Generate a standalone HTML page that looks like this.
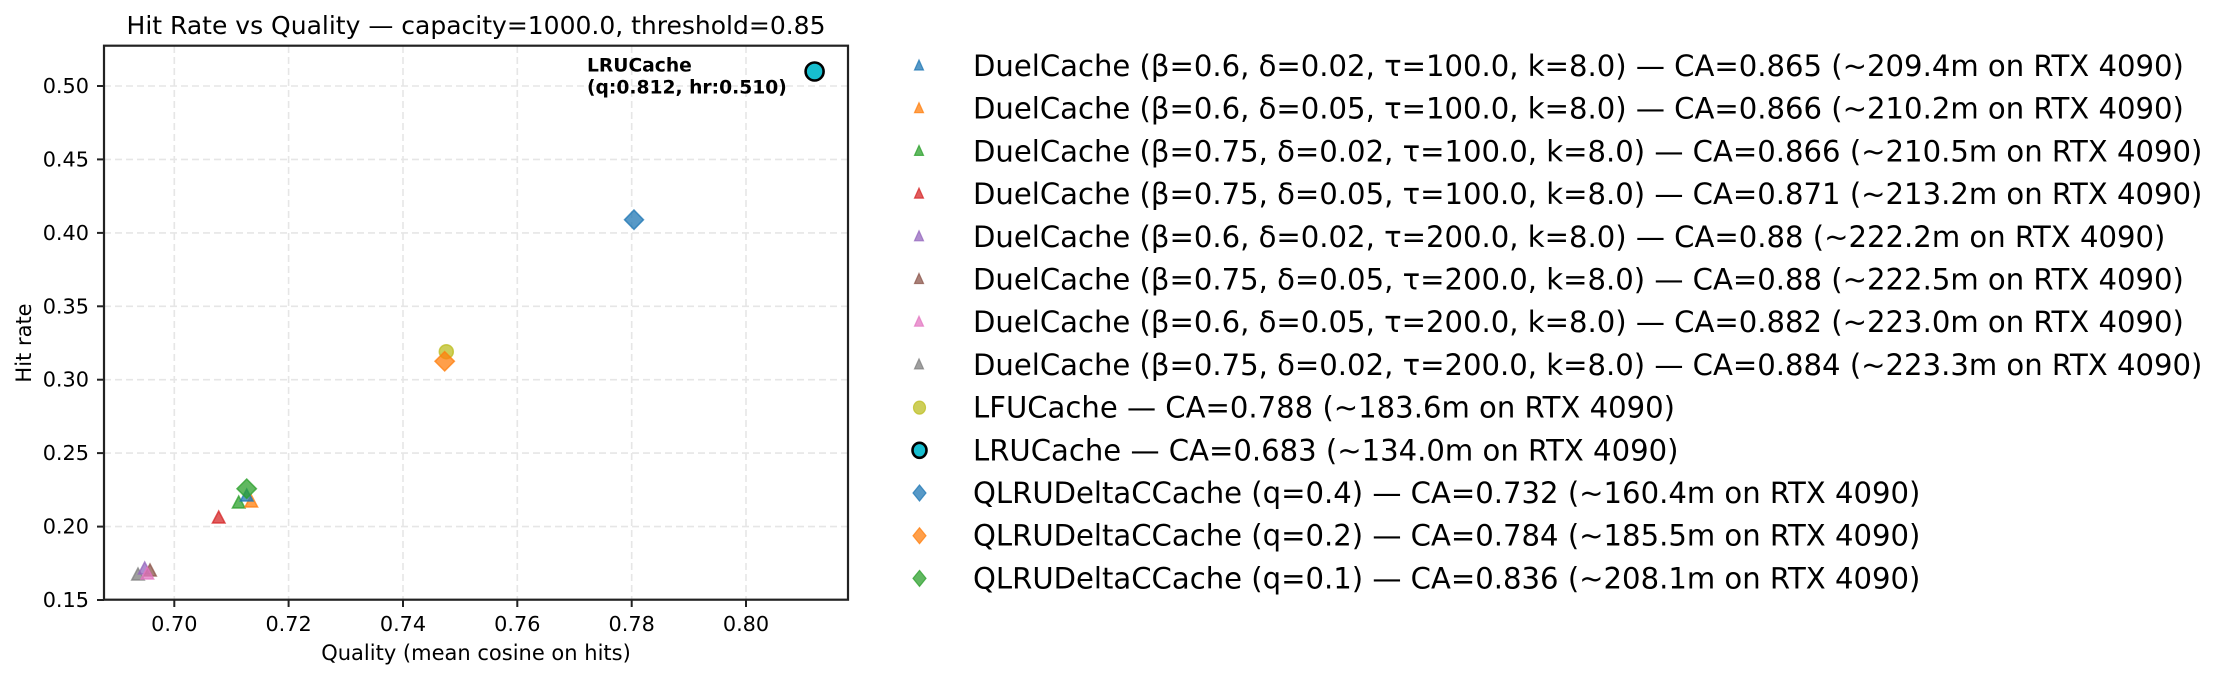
<!DOCTYPE html>
<html><head><meta charset="utf-8"><style>
html,body{margin:0;padding:0;background:#fff;}
svg{display:block;font-family:"DejaVu Sans","Liberation Sans",sans-serif;}
</style></head><body>
<svg width="2228" height="678" viewBox="0 0 2228 678" xmlns="http://www.w3.org/2000/svg">
<rect width="2228" height="678" fill="#fff"/>
<text x="476" y="34" font-size="25" text-anchor="middle" fill="#000">Hit Rate vs Quality — capacity=1000.0, threshold=0.85</text>
<g stroke="#e6e6e6" stroke-width="1.6" stroke-dasharray="7,4">
<line x1="174.3" y1="46" x2="174.3" y2="600"/><line x1="288.6" y1="46" x2="288.6" y2="600"/><line x1="403" y1="46" x2="403" y2="600"/><line x1="517.3" y1="46" x2="517.3" y2="600"/><line x1="631.7" y1="46" x2="631.7" y2="600"/><line x1="746" y1="46" x2="746" y2="600"/>
<line x1="104" y1="526.6" x2="848" y2="526.6"/><line x1="104" y1="453.1" x2="848" y2="453.1"/><line x1="104" y1="379.7" x2="848" y2="379.7"/><line x1="104" y1="306.3" x2="848" y2="306.3"/><line x1="104" y1="232.9" x2="848" y2="232.9"/><line x1="104" y1="159.4" x2="848" y2="159.4"/><line x1="104" y1="86" x2="848" y2="86"/>
</g>
<g fill-opacity="0.75" stroke-opacity="0.75" stroke-width="1.5">
<polygon points="634,210 643.5,219.7 634,229.4 624.5,219.7" fill="#1f77b4" stroke="#1f77b4"/>
<circle cx="446.3" cy="351.7" r="7" fill="#bcbd22" stroke="#bcbd22"/>
<polygon points="444.7,351.6 454.4,361.3 444.7,371 435,361.3" fill="#ff7f0e" stroke="#ff7f0e"/>
<polygon points="218.7,511 225,523 212.4,523" fill="#d62728" stroke="#d62728"/>
<polygon points="238.7,496 245,508 232.4,508" fill="#2ca02c" stroke="#2ca02c"/>
<polygon points="251.3,495 257.6,507 245,507" fill="#ff7f0e" stroke="#ff7f0e"/>
<polygon points="246.7,489 253,501 240.4,501" fill="#1f77b4" stroke="#1f77b4"/>
<polygon points="246.7,479 256.4,488.7 246.7,498.4 237,488.7" fill="#2ca02c" stroke="#2ca02c"/>
<polygon points="138,568 144.3,580 131.7,580" fill="#7f7f7f" stroke="#7f7f7f"/>
<polygon points="144.7,562 151,574 138.4,574" fill="#9467bd" stroke="#9467bd"/>
<polygon points="150,564 156.3,576 143.7,576" fill="#8c564b" stroke="#8c564b"/>
<polygon points="147.3,567 153.6,579 141,579" fill="#e377c2" stroke="#e377c2"/>
</g>
<circle cx="814.6" cy="71.5" r="9" fill="#17becf" stroke="#000" stroke-width="2.6"/>
<text x="587" y="71.5" font-size="18.7" font-weight="bold" fill="#000">LRUCache</text>
<text x="587" y="93.3" font-size="18.7" font-weight="bold" fill="#000">(q:0.812, hr:0.510)</text>
<rect x="104" y="45.7" width="744" height="554" fill="none" stroke="#222" stroke-width="2.2"/>
<g stroke="#222" stroke-width="2">
<line x1="174.3" y1="600" x2="174.3" y2="607"/><line x1="288.6" y1="600" x2="288.6" y2="607"/><line x1="403" y1="600" x2="403" y2="607"/><line x1="517.3" y1="600" x2="517.3" y2="607"/><line x1="631.7" y1="600" x2="631.7" y2="607"/><line x1="746" y1="600" x2="746" y2="607"/>
<line x1="97" y1="600" x2="104" y2="600"/><line x1="97" y1="526.6" x2="104" y2="526.6"/><line x1="97" y1="453.1" x2="104" y2="453.1"/><line x1="97" y1="379.7" x2="104" y2="379.7"/><line x1="97" y1="306.3" x2="104" y2="306.3"/><line x1="97" y1="232.9" x2="104" y2="232.9"/><line x1="97" y1="159.4" x2="104" y2="159.4"/><line x1="97" y1="86" x2="104" y2="86"/>
</g>
<g font-size="20.8" fill="#000" text-anchor="middle">
<text x="174.3" y="631">0.70</text><text x="288.6" y="631">0.72</text><text x="403" y="631">0.74</text><text x="517.3" y="631">0.76</text><text x="631.7" y="631">0.78</text><text x="746" y="631">0.80</text>
</g>
<g font-size="20.8" fill="#000" text-anchor="end">
<text x="89" y="607">0.15</text><text x="89" y="533.6">0.20</text><text x="89" y="460.1">0.25</text><text x="89" y="386.7">0.30</text><text x="89" y="313.3">0.35</text><text x="89" y="239.9">0.40</text><text x="89" y="166.4">0.45</text><text x="89" y="93">0.50</text>
</g>
<text x="476" y="660" font-size="21" text-anchor="middle" fill="#000">Quality (mean cosine on hits)</text>
<text transform="translate(31,343) rotate(-90)" font-size="21" text-anchor="middle" fill="#000">Hit rate</text>
<g fill-opacity="0.75" stroke-opacity="0.75" stroke-width="1.2">
<polygon points="919,60 923.5,70 914.5,70" fill="#1f77b4" stroke="#1f77b4"/>
<polygon points="919,102.7 923.5,112.7 914.5,112.7" fill="#ff7f0e" stroke="#ff7f0e"/>
<polygon points="919,145.4 923.5,155.4 914.5,155.4" fill="#2ca02c" stroke="#2ca02c"/>
<polygon points="919,188.1 923.5,198.1 914.5,198.1" fill="#d62728" stroke="#d62728"/>
<polygon points="919,230.8 923.5,240.8 914.5,240.8" fill="#9467bd" stroke="#9467bd"/>
<polygon points="919,273.5 923.5,283.5 914.5,283.5" fill="#8c564b" stroke="#8c564b"/>
<polygon points="919,316.2 923.5,326.2 914.5,326.2" fill="#e377c2" stroke="#e377c2"/>
<polygon points="919,358.9 923.5,368.9 914.5,368.9" fill="#7f7f7f" stroke="#7f7f7f"/>
<ellipse cx="919.5" cy="407.6" rx="6" ry="6.5" fill="#bcbd22" stroke="#bcbd22"/>
<polygon points="919.5,485 926,493 919.5,501 913,493" fill="#1f77b4" stroke="#1f77b4"/>
<polygon points="919.5,527.7 926,535.7 919.5,543.7 913,535.7" fill="#ff7f0e" stroke="#ff7f0e"/>
<polygon points="919.5,570.4 926,578.4 919.5,586.4 913,578.4" fill="#2ca02c" stroke="#2ca02c"/>
</g>
<ellipse cx="919.5" cy="450.3" rx="7" ry="7.5" fill="#17becf" stroke="#000" stroke-width="2.6"/>
<g font-size="29.1" fill="#000">
<text x="973" y="76">DuelCache (β=0.6, δ=0.02, τ=100.0, k=8.0) — CA=0.865 (~209.4m on RTX 4090)</text>
<text x="973" y="118.7">DuelCache (β=0.6, δ=0.05, τ=100.0, k=8.0) — CA=0.866 (~210.2m on RTX 4090)</text>
<text x="973" y="161.4">DuelCache (β=0.75, δ=0.02, τ=100.0, k=8.0) — CA=0.866 (~210.5m on RTX 4090)</text>
<text x="973" y="204.1">DuelCache (β=0.75, δ=0.05, τ=100.0, k=8.0) — CA=0.871 (~213.2m on RTX 4090)</text>
<text x="973" y="246.8">DuelCache (β=0.6, δ=0.02, τ=200.0, k=8.0) — CA=0.88 (~222.2m on RTX 4090)</text>
<text x="973" y="289.5">DuelCache (β=0.75, δ=0.05, τ=200.0, k=8.0) — CA=0.88 (~222.5m on RTX 4090)</text>
<text x="973" y="332.2">DuelCache (β=0.6, δ=0.05, τ=200.0, k=8.0) — CA=0.882 (~223.0m on RTX 4090)</text>
<text x="973" y="374.9">DuelCache (β=0.75, δ=0.02, τ=200.0, k=8.0) — CA=0.884 (~223.3m on RTX 4090)</text>
<text x="973" y="417.6">LFUCache — CA=0.788 (~183.6m on RTX 4090)</text>
<text x="973" y="460.3">LRUCache — CA=0.683 (~134.0m on RTX 4090)</text>
<text x="973" y="503">QLRUDeltaCCache (q=0.4) — CA=0.732 (~160.4m on RTX 4090)</text>
<text x="973" y="545.7">QLRUDeltaCCache (q=0.2) — CA=0.784 (~185.5m on RTX 4090)</text>
<text x="973" y="588.4">QLRUDeltaCCache (q=0.1) — CA=0.836 (~208.1m on RTX 4090)</text>
</g>
</svg>
</body></html>
